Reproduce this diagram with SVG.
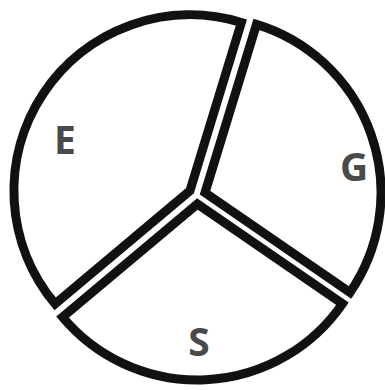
<svg xmlns="http://www.w3.org/2000/svg" width="385" height="390" viewBox="0 0 385 390">
<style>
.slice{fill:#fff;stroke:#111;stroke-width:9;stroke-linejoin:miter}
.lbl{font-family:"Open Sans","Liberation Sans",sans-serif;font-weight:bold;font-size:39px;fill:#4a4a4a;text-anchor:middle}
</style>
<rect width="385" height="390" fill="#fff"/>
<g id="E">
<path class="slice" d="M189.91,190.81 L55.09,303.94 A176,176 0 0 1 241.37,22.5 Z"/>
<text class="lbl" x="65" y="154">E</text>
</g>
<g id="G">
<path class="slice" d="M205.02,192.69 L256.48,24.38 A176,176 0 0 1 350.06,292.38 Z"/>
<text class="lbl" x="354" y="181">G</text>
</g>
<g id="S">
<path class="slice" d="M197.41,203.99 L342.45,303.68 A176,176 0 0 1 62.59,317.12 Z"/>
<text class="lbl" x="199" y="356">S</text>
</g>
<g id="connectors"></g>
</svg>
